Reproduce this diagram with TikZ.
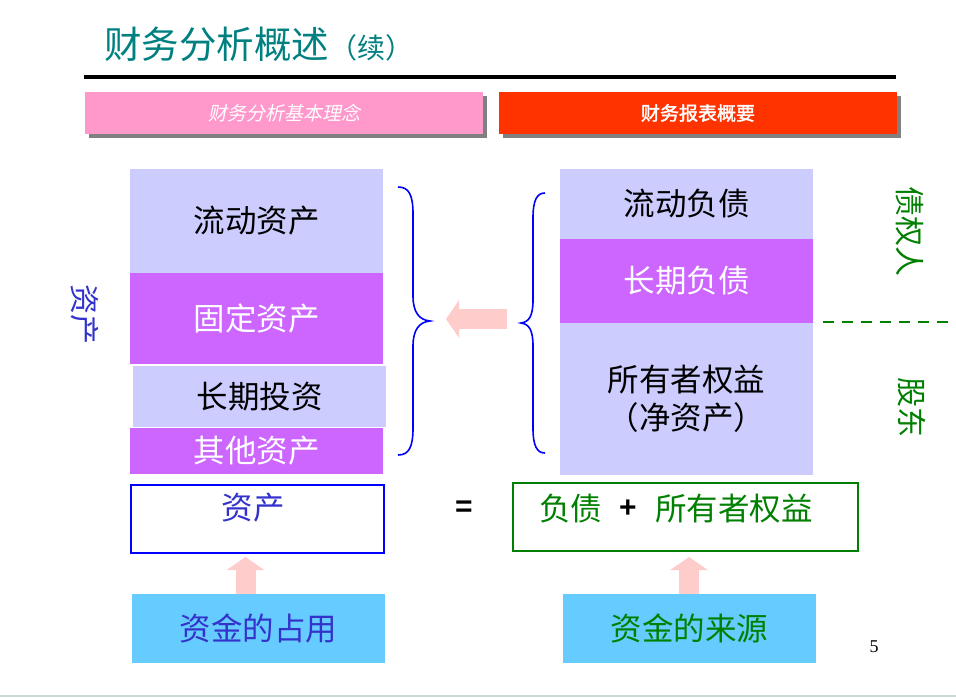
\documentclass[tikz,border=0pt]{standalone}
\usepackage{fontspec}
\setmainfont{Noto Sans CJK SC}
\newfontfamily\cjkit[FakeSlant=0.2]{Noto Sans CJK SC}
\newfontfamily\cjkbf[FakeBold=2]{Noto Sans CJK SC}
\newfontfamily\lsans{Liberation Sans}
\newfontfamily\lserif{Liberation Serif}
\usetikzlibrary{arrows.meta,shadows}
\definecolor{teal1}{HTML}{008080}
\definecolor{pinkbar}{HTML}{FF99CC}
\definecolor{redbar}{HTML}{FF3300}
\definecolor{lav}{HTML}{CCCCFF}
\definecolor{vio}{HTML}{CC66FF}
\definecolor{arrowpink}{HTML}{FFCCCC}
\definecolor{skyb}{HTML}{66CCFF}
\definecolor{txtblue}{HTML}{3333CC}
\definecolor{grn}{HTML}{008000}
\definecolor{braceblue}{HTML}{0000FF}
\definecolor{footline}{HTML}{C8D8D8}
\begin{document}
\begin{tikzpicture}[x=1pt,y=-1pt,
  bar/.style={anchor=north west, inner sep=0pt, outer sep=0pt, minimum width=398pt, minimum height=42pt, text=white, font=\fontsize{19}{19}\selectfont, drop shadow={shadow xshift=4pt, shadow yshift=-4pt, fill=gray, opacity=1}},
  stack/.style={anchor=north west, inner sep=0pt, outer sep=0pt, font=\fontsize{31.5}{38}\selectfont, align=center},
  lavbox/.style={stack, fill=lav, text=black},
  viobox/.style={stack, fill=vio, text=white},
  eqbox/.style={anchor=north west, inner sep=0pt, outer sep=0pt, fill=white, line width=1.2pt},
  fundbox/.style={anchor=north west, inner sep=0pt, outer sep=0pt, fill=skyb, minimum width=253pt, minimum height=69pt, font=\fontsize{31.5}{31.5}\selectfont},
  bigtxt/.style={inner sep=0pt, font=\fontsize{31.5}{31.5}\selectfont},
  symb/.style={inner sep=0pt, font=\lsans\bfseries\fontsize{30}{30}\selectfont},
  vlabel/.style={inner sep=0pt, rotate=-90, font=\fontsize{30}{30}\selectfont},
  bracepath/.style={draw=braceblue, line width=1.6pt},
  fatarrow/.style={draw=arrowpink, line width=20pt, -{Triangle[width=37pt,length=13pt]}}
]
\useasboundingbox (0,0) rectangle (956,697);
\fill[white] (0,0) rectangle (956,697);

% title
\node[anchor=west, inner sep=0pt, text=teal1] (title) at (104,44)
  {\fontsize{37.5}{37.5}\selectfont 财务分析概述\fontsize{28}{28}\selectfont（续）};
\draw[line width=4pt] (84,77) -- (896,77);

% header bars
\node[bar, fill=pinkbar] (hleft) at (85,92) {\cjkit 财务分析基本理念};
\node[bar, fill=redbar] (hright) at (499,92) {\cjkbf 财务报表概要};

% left stack
\node[lavbox, minimum width=253pt, minimum height=104pt] (ca) at (130,169) {流动资产};
\node[viobox, minimum width=253pt, minimum height=91pt] (fa) at (130,273) {固定资产};
\node[lavbox, minimum width=253pt, minimum height=61pt] (li) at (133,366) {长期投资};
\node[viobox, minimum width=253pt, minimum height=46pt] (oa) at (130,428) {其他资产};
\node[vlabel, text=txtblue] (zc) at (85,314) {资产};

% right stack
\node[lavbox, minimum width=253pt, minimum height=70pt] (cl) at (560,169) {流动负债};
\node[viobox, minimum width=253pt, minimum height=84pt] (ll) at (560,239) {长期负债};
\node[lavbox, minimum width=253pt, minimum height=152pt] (oe) at (560,323) {所有者权益\\（净资产）};
\node[vlabel, text=grn] (cr) at (910,231) {债权人};
\node[vlabel, text=grn] (sh) at (912,407) {股东};
\draw[grn, line width=2.8pt, dash pattern=on 11pt off 8pt] (823,322) -- (956,322);

% braces
\draw[bracepath] (398,187) .. controls (409,187) and (413,195) .. (413,214) -- (413,296)
  .. controls (413,312) and (419,320) .. (430,321)
  .. controls (419,322) and (413,330) .. (413,346) -- (413,428)
  .. controls (413,447) and (409,455) .. (398,455);
\draw[bracepath] (545,193) .. controls (537,193) and (533,200) .. (533,218) -- (533,300)
  .. controls (533,316) and (529,322) .. (521,323)
  .. controls (529,324) and (533,330) .. (533,346) -- (533,428)
  .. controls (533,446) and (537,453) .. (545,453);

% left arrow
\coordinate (lastart) at (507,319);
\coordinate (laend) at (446,319);
\draw[fatarrow] (lastart) -- (laend);

% equation row
\node[eqbox, draw=braceblue, minimum width=253pt, minimum height=68pt] (abox) at (131,485) {};
\node[bigtxt, text=txtblue] (atxt) at (253,508) {资产};
\node[symb] (eq) at (464,509) {=};
\node[eqbox, draw=grn, minimum width=345pt, minimum height=68pt] (lbox) at (513,483) {};
\node[bigtxt, text=grn, anchor=west] (ltxt1) at (539,509) {负债};
\node[symb] (plus) at (628,509) {+};
\node[bigtxt, text=grn, anchor=west] (ltxt2) at (655,509) {所有者权益};

% fund boxes
\node[fundbox, text=txtblue] (occ) at (132,594) {资金的占用};
\node[fundbox, text=grn] (src) at (563,594) {资金的来源};

% up arrows
\coordinate (ua1s) at (245.5,594);
\coordinate (ua1e) at (245.5,557);
\coordinate (ua2s) at (689,594);
\coordinate (ua2e) at (689,557);
\draw[fatarrow] (ua1s) -- (ua1e);
\draw[fatarrow] (ua2s) -- (ua2e);

% page number
\node[inner sep=0pt, font=\lserif\fontsize{18}{18}\selectfont] (pg) at (874,647) {5};

% footer line
\draw[footline, line width=2.5pt] (0,696) -- (956,696);
\end{tikzpicture}
\end{document}
